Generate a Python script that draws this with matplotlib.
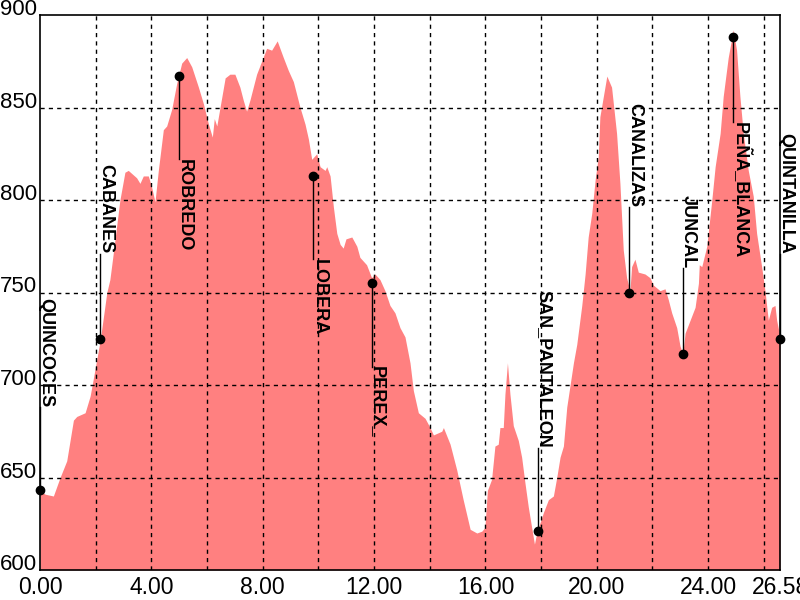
import matplotlib
matplotlib.use("Agg")
import matplotlib.pyplot as plt
import matplotlib.transforms as mtransforms

plt.rcParams['font.family'] = ['Liberation Sans', 'DejaVu Sans']

# elevation profile (distance in km, elevation in m)
dist = [0.00, 0.18, 0.48, 0.72, 0.96, 1.20, 1.32, 1.62, 1.80, 1.91, 2.16, 2.40, 2.51, 2.63,
        2.87, 3.05, 3.17, 3.47, 3.59, 3.71, 3.89, 4.01, 4.13, 4.25, 4.43, 4.55, 4.73, 4.91,
        5.09, 5.27, 5.45, 5.69, 5.87, 6.05, 6.19, 6.26, 6.35, 6.65, 6.82, 7.00, 7.18, 7.30,
        7.42, 7.54, 7.66, 7.78, 7.96, 8.14, 8.32, 8.52, 8.74, 8.92, 9.10, 9.34, 9.52, 9.64,
        9.76, 9.94, 10.06, 10.24, 10.30, 10.42, 10.54, 10.66, 10.78, 10.89, 10.99, 11.20,
        11.38, 11.49, 11.73, 11.91, 12.03, 12.21, 12.39, 12.57, 12.75, 12.93, 13.11, 13.29,
        13.41, 13.59, 13.83, 14.01, 14.13, 14.43, 14.49, 14.73, 14.97, 15.20, 15.45, 15.69,
        15.87, 15.98, 16.07, 16.22, 16.34, 16.46, 16.52, 16.64, 16.70, 16.79, 16.88, 17.00,
        17.18, 17.30, 17.42, 17.54, 17.66, 17.76, 17.84, 18.08, 18.26, 18.44, 18.56, 18.68,
        18.80, 18.92, 19.04, 19.16, 19.28, 19.46, 19.58, 19.69, 19.82, 19.94, 20.05, 20.11,
        20.36, 20.53, 20.71, 20.83, 20.95, 21.07, 21.19, 21.25, 21.37, 21.49, 21.73, 21.91,
        22.03, 22.27, 22.45, 22.57, 22.69, 22.87, 22.99, 23.09, 23.17, 23.35, 23.53, 23.65,
        23.68, 23.77, 23.95, 24.13, 24.25, 24.43, 24.54, 24.72, 24.90, 25.02, 25.14, 25.26,
        25.44, 25.62, 25.74, 25.92, 26.04, 26.16, 26.28, 26.40, 26.46, 26.58]
elev = [643, 641, 640, 650, 659, 681, 683, 685, 694, 703, 724, 750, 757, 771,
        800, 815, 816, 812, 809, 813, 813, 807, 799, 816, 838, 840, 849, 863,
        874, 877, 872, 861, 852, 841, 834, 844, 840, 866, 868, 868, 861, 854,
        848, 854, 861, 868, 875, 882, 881, 886, 877, 870, 864, 850, 841, 833,
        822, 825, 818, 816, 818, 813, 796, 782, 776, 774, 779, 780,
        775, 769, 765, 758, 760, 757, 751, 743, 739, 731, 726, 712,
        697, 685, 682, 677, 673, 675, 677, 668, 654, 638, 622, 620,
        621, 623, 643, 649, 667, 668, 677, 677, 695, 712, 695, 678,
        670, 661, 647, 634, 623, 614, 620, 631, 638, 640, 650, 661,
        667, 688, 700, 712, 722, 743, 760, 780, 793, 811, 823, 845,
        867, 861, 836, 809, 773, 758, 751, 764, 768, 761, 760, 758,
        754, 751, 752, 746, 739, 731, 721, 717, 728, 735, 742, 755,
        765, 764, 775, 800, 818, 836, 856, 877, 892, 881, 856, 836,
        816, 802, 782, 764, 751, 735, 742, 743, 735, 726]

# waypoints
wp_names = ['QUINCOCES', 'CABANES', 'ROBREDO', 'LOBERA', 'PEREX_', 'SAN_PANTALEON',
            'CANALIZAS', 'JUNCAL', 'PEÑA_BLANCA', 'QUINTANILLA']
wp_dist = [0.00, 2.16, 5.00, 9.82, 11.91, 17.90, 21.17, 23.09, 24.90, 26.58]
wp_elev = [643, 725, 867, 813, 755, 621, 750, 717, 888, 725]
# elevation where the label meets its leader line
wp_label = [688, 771, 822, 768, 710, 666, 796, 763, 842, 771]

fig = plt.figure(figsize=(8, 6), dpi=100)
ax = fig.add_axes([0.05, 0.05, 0.925, 0.925])

ax.fill_between(dist, elev, 600, color='#FF8080', linewidth=0, zorder=1)

ax.set_xlim(0, 26.58)
ax.set_ylim(600, 900)

# grid every 2 km and 50 m
for gx in range(2, 27, 2):
    ax.axvline(gx, color='black', lw=1, dashes=(3, 3), zorder=2)
for gy in range(650, 900, 50):
    ax.axhline(gy, color='black', lw=1, dashes=(3, 3), zorder=2)

xt = [0, 4, 8, 12, 16, 20, 24, 26.58]
ax.set_xticks(xt)
ax.set_xticklabels(['%.2f' % v for v in xt], fontsize=16.5)
yt = list(range(600, 901, 50))
ax.set_yticks(yt)
ax.set_yticklabels([str(v) for v in yt], fontsize=16, va='baseline')
ax.tick_params(length=0, pad=2)
ax.tick_params(axis='x', pad=4)
for s in ax.spines.values():
    s.set_linewidth(1.2)
    s.set_zorder(5)

shift = mtransforms.offset_copy(ax.transData, fig=fig, x=-3, y=0, units='dots')
for name, x, y, ly in zip(wp_names, wp_dist, wp_elev, wp_label):
    ax.plot([x, x], [y, ly], color='black', lw=1, zorder=4, clip_on=False)
    ax.plot(x, y, 'o', color='black', ms=6, zorder=6, clip_on=False)
    va = 'bottom' if ly > y else 'top'
    ax.text(x, ly, name, rotation=-90, ha='left', va=va, fontsize=13,
            fontweight='bold', transform=shift, zorder=6)

fig.savefig('out.png', dpi=100)
